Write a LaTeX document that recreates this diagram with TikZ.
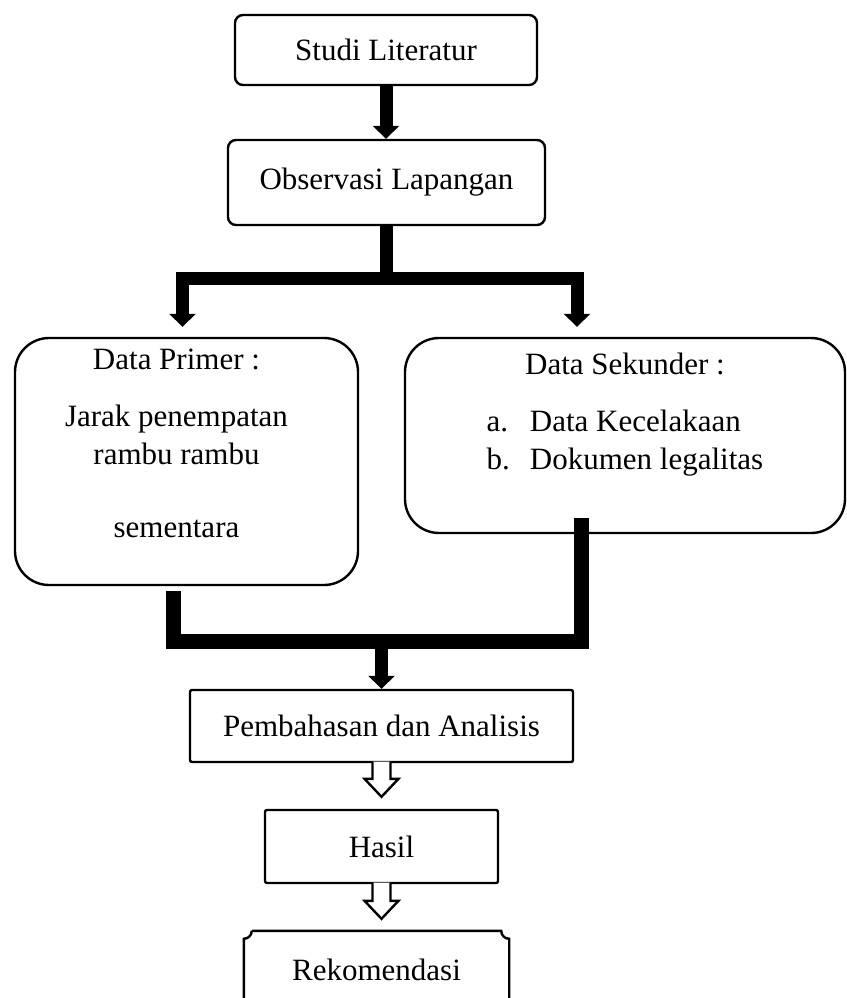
\documentclass[tikz,border=0pt]{standalone}
\usepackage{fontspec}
\setmainfont{Liberation Serif}
\usetikzlibrary{arrows.meta,calc}
\tikzset{flow box/.style={rectangle, draw=black, line width=1.2pt,
    font=\fontsize{15.5}{19}\selectfont, inner sep=0pt}}
\tikzset{round box/.style={flow box, rounded corners=4pt}}
\tikzset{data box/.style={flow box, rounded corners=17pt}}
\tikzset{square box/.style={flow box, rounded corners=1pt}}
\tikzset{plaque box/.style={flow box, draw=none}}
\tikzset{heavy line/.style={draw=black, line width=6.5pt}}
\tikzset{heavy arrow/.style={heavy line, -{Triangle[width=13pt,length=6.5pt]}}}
\tikzset{hollow line/.style={draw=black, line width=1.2pt, line join=miter}}
\newcommand{\hollowlink}[2]{%
  \fill [white] ($(#1.south)+(-9,-1.5)$) -- ($(#1.south |- #2.north)+(-9,-30)$) -- ++(-8,0)
    -- ($(#1.south |- #2.north)+(0,-12)$) -- ($(#1.south |- #2.north)+(17,-30)$) -- ++(-8,0)
    -- ($(#1.south)+(9,-1.5)$) -- cycle;
  \draw [hollow line] ($(#1.south)+(-9,-1.5)$) -- ($(#1.south |- #2.north)+(-9,-30)$) -- ++(-8,0)
    -- ($(#1.south |- #2.north)+(0,-12)$) -- ($(#1.south |- #2.north)+(17,-30)$) -- ++(-8,0)
    -- ($(#1.south)+(9,-1.5)$);}
\newcommand{\plaqueframe}[1]{%
  \draw [hollow line] ([xshift=4pt]#1.north west) -- ([xshift=-4pt]#1.north east)
    arc [start angle=180, end angle=270, radius=4pt] -- ([yshift=4pt]#1.south east)
    arc [start angle=90, end angle=180, radius=4pt] -- ([xshift=4pt]#1.south west)
    arc [start angle=0, end angle=90, radius=4pt] -- ([yshift=-4pt]#1.north west)
    arc [start angle=270, end angle=360, radius=4pt];}

\begin{document}
\begin{tikzpicture}
  [x=0.5pt, y=-0.5pt]
  \useasboundingbox (0,0) rectangle (847,998);
  \clip (0,0) rectangle (847,998);

  % boxes
  \node [round box, minimum width=151pt, minimum height=35pt]    (studi) at (386, 50)    {Studi Literatur};
  \node [round box, minimum width=158.5pt, minimum height=42.5pt] (obs)   at (386.5, 182.5) {Observasi Lapangan};
  \node [data box, minimum width=171.5pt, minimum height=123.5pt] (prim)  at (186.5, 461.5)
    {\begin{tabular}{@{}c@{\hspace{10pt}}}
       Data Primer :\\[9.5pt]
       Jarak penempatan\\
       rambu rambu\\[17.5pt]
       sementara\\[15.5pt]
     \end{tabular}};
  \node [data box, minimum width=220pt, minimum height=97.5pt]    (sek)   at (625, 435.5)
    {\begin{tabular}{@{}c@{}}
       Data Sekunder :\\[9.5pt]
       \begin{tabular}[t]{@{}l@{\hspace{10pt}}l@{}}
         a. & Data Kecelakaan\\
         b. & Dokumen legalitas
       \end{tabular}\\[40pt]
     \end{tabular}};
  \node [square box, minimum width=191.5pt, minimum height=36pt]  (pemb)  at (381.5, 726) {Pembahasan dan Analisis};
  \node [square box, minimum width=116.5pt, minimum height=36.5pt] (hasil) at (381.5, 846.5) {Hasil};
  \node [plaque box, minimum width=131.5pt, minimum height=38pt]  (reko)  at (376.5, 970) {Rekomendasi};
  \plaqueframe{reko}

  % heavy connectors
  \coordinate (fork) at (387, 278);
  \coordinate (join) at (381.5, 641);
  \draw [heavy arrow] (studi.south) -- (studi.south |- obs.north);
  \draw [heavy line]  (obs.south) -- (obs.south |- fork);
  \draw [heavy arrow, shorten >=5pt] (fork) -| ([xshift=-2pt]prim.north);
  \draw [heavy arrow, shorten >=5pt] (fork) -| ([xshift=-24pt]sek.north);
  \draw [heavy line, line width=7.5pt] ([xshift=-6.5pt, yshift=-2.5pt]prim.south) |- (join)
    -| ([xshift=-22pt, yshift=8pt]sek.south);
  \draw [heavy arrow] (join) -- (pemb.north);

  % hollow connectors
  \hollowlink{pemb}{hasil}
  \hollowlink{hasil}{reko}
\end{tikzpicture}
\end{document}
